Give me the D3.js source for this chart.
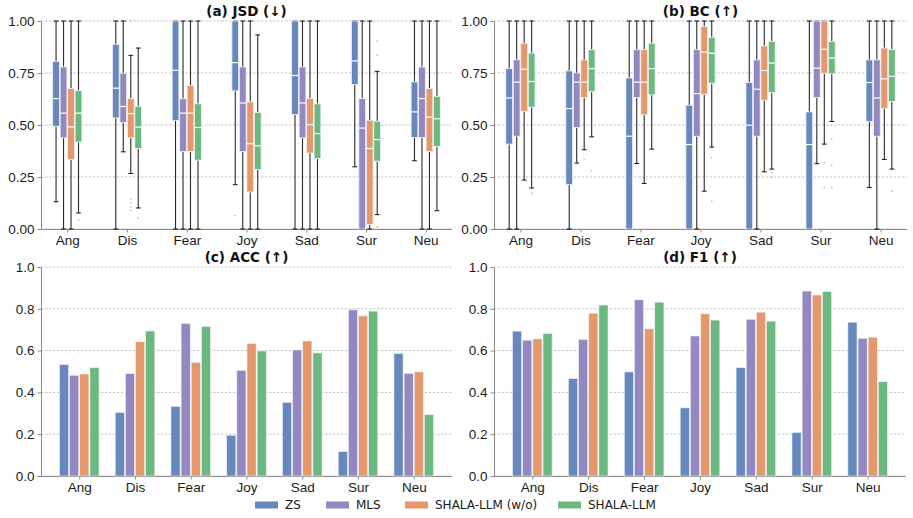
<!DOCTYPE html>
<html>
<head>
<meta charset="utf-8">
<script src="https://cdn.jsdelivr.net/npm/d3@7"></script>
<style>
  body { margin: 0; background: #fff; }
  svg { font-family: "DejaVu Sans", sans-serif; display: block; }
</style>
</head>
<body>
<div id="chart"></div>
<script>
const CATEGORIES = ["Ang", "Dis", "Fear", "Joy", "Sad", "Sur", "Neu"];
const SERIES = ["ZS", "MLS", "SHALA-LLM (w/o)", "SHALA-LLM"];
const COLORS = ["#6788bd", "#9488c0", "#e5986b", "#6cb97f"];

const BOX_TICKS = [0, 0.25, 0.5, 0.75, 1.0];
const BAR_TICKS = [0, 0.2, 0.4, 0.6, 0.8, 1.0];

// box stats per category: [whisker low, q1, median, q3, whisker high]
const JSD_ZS = [[0.131, 0.494, 0.627, 0.806, 1], [0, 0.534, 0.677, 0.888, 1], [0, 0.522, 0.763, 1, 1], [0.213, 0.664, 0.8, 1, 1], [0, 0.55, 0.738, 1, 1], [0.299, 0.694, 0.808, 1, 1], [0.328, 0.44, 0.563, 0.707, 1]];
const JSD_MLS = [[0, 0.438, 0.557, 0.779, 1], [0.371, 0.512, 0.589, 0.749, 1], [0, 0.373, 0.557, 0.626, 1], [0, 0.373, 0.606, 0.779, 1], [0, 0.438, 0.606, 0.779, 1], [0, 0, 0.485, 0.627, 1], [0, 0.44, 0.627, 0.779, 1]];
const JSD_WO = [[0, 0.334, 0.491, 0.675, 1], [0.267, 0.438, 0.555, 0.627, 0.835], [0, 0.373, 0.557, 0.69, 1], [0, 0.178, 0.41, 0.611, 1], [0, 0.365, 0.502, 0.627, 1], [0, 0.021, 0.387, 0.523, 1], [0, 0.373, 0.538, 0.675, 1]];
const JSD_FULL = [[0.077, 0.418, 0.557, 0.666, 1], [0.101, 0.387, 0.49, 0.59, 0.87], [0, 0.331, 0.488, 0.602, 1], [0, 0.286, 0.4, 0.56, 0.933], [0, 0.338, 0.459, 0.602, 1], [0.069, 0.326, 0.43, 0.518, 0.758], [0.088, 0.397, 0.53, 0.638, 1]];
// outliers: [category index, series index, value]
const JSD_OUTLIERS = [[0, 3, 0.042], [1, 2, 1.0], [1, 2, 0.144], [1, 2, 0.125], [1, 2, 0.106], [1, 2, 0.09], [1, 3, 0.051], [3, 0, 0.064], [5, 3, 0.904], [5, 3, 0.835], [5, 3, 0.01]];

const BC_ZS = [[0, 0.408, 0.63, 0.771, 1], [0, 0.213, 0.579, 0.76, 1], [0, 0, 0.446, 0.726, 1], [0, 0, 0.406, 0.595, 1], [0, 0, 0.499, 0.704, 1], [0, 0, 0.406, 0.563, 1], [0.2, 0.517, 0.704, 0.813, 1]];
const BC_MLS = [[0, 0.446, 0.706, 0.814, 1], [0.317, 0.488, 0.706, 0.75, 1], [0.315, 0.632, 0.706, 0.862, 1], [0, 0.446, 0.651, 0.862, 1], [0, 0.446, 0.672, 0.813, 1], [0.314, 0.632, 0.773, 1, 1], [0, 0.446, 0.63, 0.813, 1]];
const BC_WO = [[0.235, 0.566, 0.768, 0.893, 1], [0.381, 0.632, 0.706, 0.813, 1], [0.219, 0.549, 0.706, 0.862, 1], [0.182, 0.648, 0.851, 0.974, 1], [0.275, 0.619, 0.762, 0.88, 1], [0.408, 0.749, 0.864, 1, 1], [0.334, 0.579, 0.722, 0.87, 1]];
const BC_FULL = [[0.197, 0.586, 0.709, 0.846, 1], [0.443, 0.661, 0.771, 0.862, 1], [0.384, 0.645, 0.771, 0.893, 1], [0.394, 0.701, 0.845, 0.922, 1], [0.288, 0.656, 0.798, 0.902, 1], [0.517, 0.746, 0.822, 0.902, 1], [0.288, 0.613, 0.734, 0.862, 1]];
const BC_OUTLIERS = [[0, 3, 0.173], [1, 2, 0.333], [1, 3, 0.28], [3, 3, 0.344], [3, 3, 0.133], [4, 3, 0.27], [4, 3, 0.25], [5, 2, 0.317], [5, 2, 0.2], [5, 3, 0.434], [5, 3, 0.306], [5, 3, 0.2], [6, 3, 0.182]];

const ACC_ZS = [0.533, 0.304, 0.333, 0.195, 0.352, 0.117, 0.586];
const ACC_MLS = [0.482, 0.490, 0.730, 0.506, 0.603, 0.795, 0.491];
const ACC_WO = [0.488, 0.642, 0.544, 0.634, 0.646, 0.766, 0.498];
const ACC_FULL = [0.518, 0.694, 0.715, 0.598, 0.589, 0.789, 0.293];

const F1_ZS = [0.693, 0.466, 0.498, 0.326, 0.518, 0.208, 0.736];
const F1_MLS = [0.650, 0.654, 0.843, 0.670, 0.750, 0.885, 0.659];
const F1_WO = [0.656, 0.779, 0.704, 0.776, 0.784, 0.866, 0.664];
const F1_FULL = [0.682, 0.818, 0.832, 0.746, 0.741, 0.882, 0.451];

const width = 913;
const height = 518;

const svg = d3.select("#chart").append("svg")
    .attr("width", width)
    .attr("height", height);

function panelAxes(box, ticks, fmt, title, xPadding) {
    const x = d3.scalePoint().domain(CATEGORIES).range([box.x0, box.x1]).padding(xPadding);
    const y = d3.scaleLinear().domain([0, 1]).range([box.y1, box.y0]);
    const g = svg.append("g");

    // dashed grid
    g.append("g").selectAll("line")
        .data(ticks)
        .join("line")
        .attr("x1", box.x0).attr("x2", box.x1)
        .attr("y1", d => y(d)).attr("y2", d => y(d))
        .attr("stroke", "#b5b5b5")
        .attr("stroke-width", 0.8)
        .attr("stroke-dasharray", "2.5,1.5");

    const yAxis = g.append("g")
        .attr("transform", `translate(${box.x0},0)`)
        .call(d3.axisLeft(y).tickValues(ticks).tickFormat(fmt).tickSize(3.5).tickSizeOuter(0).tickPadding(3));
    const xAxis = g.append("g")
        .attr("transform", `translate(0,${box.y1})`)
        .call(d3.axisBottom(x).tickSize(3.5).tickSizeOuter(0).tickPadding(2.5));
    // keep the bottom spine spanning the full panel
    xAxis.select(".domain").attr("d", `M${box.x0},0.5H${box.x1}`);

    [yAxis, xAxis].forEach(a => {
        a.select(".domain").attr("stroke", "#8a8a8a").attr("stroke-width", 1);
        a.selectAll(".tick line").attr("stroke", "#8a8a8a");
        a.selectAll(".tick text").attr("fill", "#1a1a1a").style("font-size", "13.5px");
    });

    svg.append("text")
        .attr("x", (box.x0 + box.x1) / 2)
        .attr("y", box.y0 - 5)
        .attr("text-anchor", "middle")
        .style("font-size", "13.5px")
        .style("font-weight", "bold")
        .attr("fill", "#111")
        .text(title);

    return { x, y };
}

function drawBoxPanel(box, seriesStats, outliers, title) {
    const { x, y } = panelAxes(box, BOX_TICKS, d3.format(".2f"), title, 0.44);
    const sub = d3.scaleBand().domain(d3.range(SERIES.length)).range([-14.6, 14.6]).paddingInner(0.1);
    const bw = sub.bandwidth();
    const cx = (j, i) => x(CATEGORIES[j]) + sub(i) + bw / 2;

    seriesStats.forEach((stats, i) => {
        const g = svg.append("g");
        stats.forEach((s, j) => {
            const c = cx(j, i);
            const [lo, q1, med, q3, hi] = s;
            g.append("line").attr("x1", c).attr("x2", c).attr("y1", y(lo)).attr("y2", y(q1))
                .attr("stroke", "#2a2a2a").attr("stroke-width", 1.1);
            g.append("line").attr("x1", c).attr("x2", c).attr("y1", y(q3)).attr("y2", y(hi))
                .attr("stroke", "#2a2a2a").attr("stroke-width", 1.1);
            [lo, hi].forEach(v => {
                g.append("line").attr("x1", c - 2.4).attr("x2", c + 2.4).attr("y1", y(v)).attr("y2", y(v))
                    .attr("stroke", "#111").attr("stroke-width", 1);
            });
            g.append("rect")
                .attr("x", c - bw / 2).attr("width", bw)
                .attr("y", y(q3)).attr("height", Math.max(0, y(q1) - y(q3)))
                .attr("fill", COLORS[i])
                .attr("stroke", "#eef0f8").attr("stroke-width", 0.8);
            g.append("line").attr("x1", c - bw / 2).attr("x2", c + bw / 2).attr("y1", y(med)).attr("y2", y(med))
                .attr("stroke", "#fff").attr("stroke-width", 1.2);
        });
    });

    svg.append("g").selectAll("circle")
        .data(outliers)
        .join("circle")
        .attr("cx", d => cx(d[0], d[1]))
        .attr("cy", d => y(d[2]))
        .attr("r", 0.8)
        .attr("fill", "#b0b0b0");
}

function drawBarPanel(box, seriesValues, title) {
    const { x, y } = panelAxes(box, BAR_TICKS, d3.format(".1f"), title, 0.686);
    const sub = d3.scaleBand().domain(d3.range(SERIES.length)).range([-19.8, 19.8]).paddingInner(0.1);
    seriesValues.forEach((vals, i) => {
        svg.append("g").selectAll("rect")
            .data(vals)
            .join("rect")
            .attr("x", (d, j) => x(CATEGORIES[j]) + sub(i))
            .attr("width", sub.bandwidth())
            .attr("y", d => y(d))
            .attr("height", d => y(0) - y(d))
            .attr("fill", COLORS[i])
            .attr("stroke", "#eef0f8")
            .attr("stroke-width", 0.6);
    });
}

drawBoxPanel({ x0: 41, x1: 452, y0: 21, y1: 229 }, [JSD_ZS, JSD_MLS, JSD_WO, JSD_FULL], JSD_OUTLIERS, "(a) JSD (\u2193)");
drawBoxPanel({ x0: 494, x1: 907, y0: 21, y1: 229 }, [BC_ZS, BC_MLS, BC_WO, BC_FULL], BC_OUTLIERS, "(b) BC (\u2191)");
drawBarPanel({ x0: 41, x1: 452, y0: 267, y1: 476 }, [ACC_ZS, ACC_MLS, ACC_WO, ACC_FULL], "(c) ACC (\u2191)");
drawBarPanel({ x0: 494, x1: 906, y0: 267, y1: 476 }, [F1_ZS, F1_MLS, F1_WO, F1_FULL], "(d) F1 (\u2191)");

// legend
const legendX = [255, 326, 405, 558];
const legend = svg.append("g").selectAll("g")
    .data(SERIES)
    .join("g")
    .attr("transform", (d, i) => `translate(${legendX[i]},505)`);
legend.append("rect")
    .attr("x", 0).attr("y", -3.5)
    .attr("width", 23).attr("height", 7)
    .attr("fill", (d, i) => COLORS[i]);
legend.append("text")
    .attr("x", 30).attr("y", 4.2)
    .style("font-size", "12px")
    .attr("fill", "#1a1a1a")
    .text(d => d);
</script>
</body>
</html>
